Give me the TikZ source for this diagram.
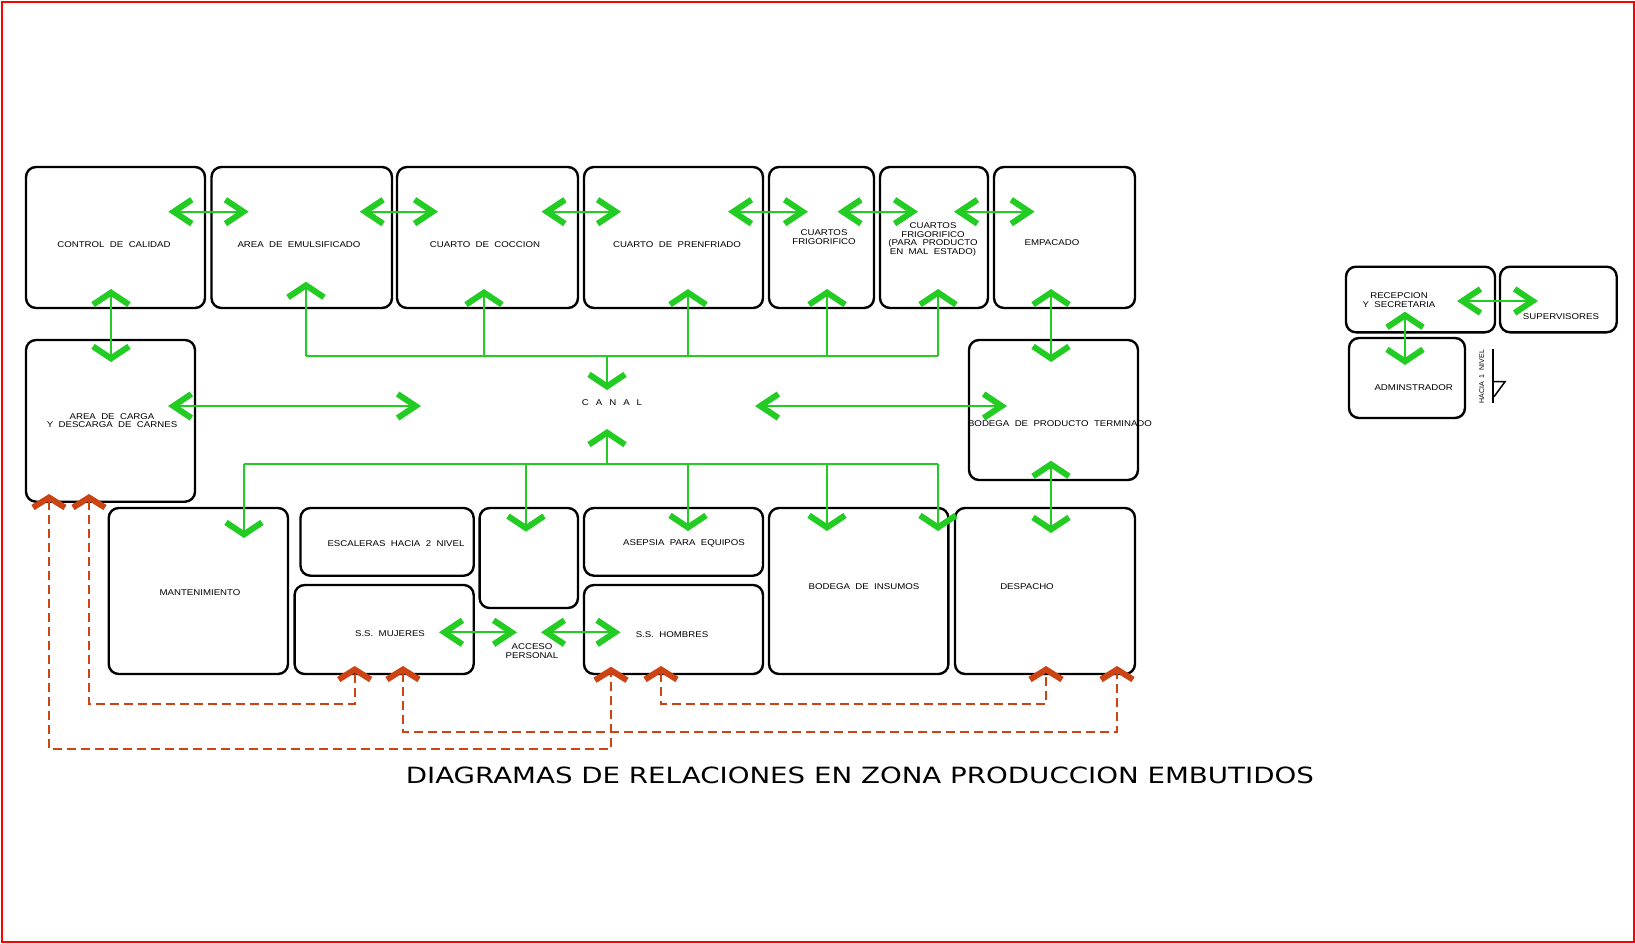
\documentclass[tikz,border=0pt]{standalone}
\usepackage{fontspec}
\usepackage{graphicx}
\usetikzlibrary{arrows.meta,fit}
\newfontfamily\cadfont[FakeStretch=1.15,WordSpace=2]{Liberation Sans}
\newfontfamily\cadplain[WordSpace=2]{Liberation Sans}
\newfontfamily\titlefont{DejaVu Sans}
\definecolor{gcol}{RGB}{34,204,34}
\definecolor{rcol}{RGB}{204,68,20}
\begin{document}
\begin{tikzpicture}[x=1pt,y=-1pt,
  box/.style={draw=black,line width=2.4pt,rounded corners=10pt,inner sep=0pt},
  lbl/.style={font=\cadfont\fontsize{8.4}{8.6}\selectfont,inner sep=0pt,align=center},
  gline/.style={draw=gcol,line width=1.7pt},
  gh/.style={gline,{Straight Barb[length=18pt,width=24pt,line width=6pt]}-{Straight Barb[length=18pt,width=24pt,line width=6pt]}},
  gv/.style={gline,{Straight Barb[length=12pt,width=36pt,line width=6pt]}-{Straight Barb[length=12pt,width=36pt,line width=6pt]}},
  gvend/.style={gline,-{Straight Barb[length=12pt,width=36pt,line width=6pt]}},
  rd/.style={draw=rcol,line width=2pt,dash pattern=on 9pt off 5pt,{Straight Barb[length=10pt,width=32pt,line width=6pt]}-{Straight Barb[length=10pt,width=32pt,line width=6pt]}}
]
\useasboundingbox (0,0) rectangle (1635,943);
\fill[white] (0,0) rectangle (1635,943);
\draw[red,line width=2pt] (2,2) rectangle (1633.5,941.5);

% boxes
\node[box,fit={(26,167) (205,308)}] (ctrl) {};
\node[box,fit={(211.5,167) (392,308)}] (emul) {};
\node[box,fit={(397,167) (578,308)}] (cocc) {};
\node[box,fit={(584,167) (763,308)}] (pren) {};
\node[box,fit={(769,167) (874,308)}] (frig) {};
\node[box,fit={(880,167) (988,308)}] (mal) {};
\node[box,fit={(994,167) (1135,308)}] (emp) {};
\node[box,fit={(26,340) (195,501.7)}] (carga) {};
\node[box,fit={(969,340) (1138,480)}] (bpt) {};
\node[box,fit={(108.7,508) (288,674)}] (mant) {};
\node[box,fit={(300.5,508) (473.7,575.7)}] (esc) {};
\node[box,fit={(294.6,585) (473.7,674)}] (muj) {};
\node[box,fit={(479.6,508) (578,608)}] (small) {};
\node[box,fit={(584,508) (763,575.7)}] (asep) {};
\node[box,fit={(584,585) (763,674)}] (hom) {};
\node[box,fit={(769,508) (948.4,674)}] (insu) {};
\node[box,fit={(955,508) (1135,674)}] (desp) {};
\node[box,fit={(1346,266.7) (1495,332.3)}] (rec) {};
\node[box,fit={(1500,266.7) (1616.7,332.3)}] (sup) {};
\node[box,fit={(1349,338) (1465,418)}] (adm) {};

% labels
\node[lbl] (Lctrl) at (114,245) {CONTROL DE CALIDAD};
\node[lbl] (Lemul) at (299,245) {AREA DE EMULSIFICADO};
\node[lbl] (Lcocc) at (485,245) {CUARTO DE COCCION};
\node[lbl] (Lpren) at (677,245) {CUARTO DE PRENFRIADO};
\node[lbl] (Lfrig) at (824,237) {CUARTOS\\FRIGORIFICO};
\node[lbl] (Lmal) at (933,239.5) {CUARTOS\\FRIGORIFICO\\(PARA PRODUCTO\\EN MAL ESTADO)};
\node[lbl] (Lemp) at (1052,243) {EMPACADO};
\node[lbl] (Lcarga) at (112,420.5) {AREA DE CARGA\\Y DESCARGA DE CARNES};
\node[lbl] (canal) at (612,403) {C\hspace{7pt}A\hspace{7pt}N\hspace{7pt}A\hspace{7pt}L};
\node[lbl] (Lbpt) at (1060,424) {BODEGA DE PRODUCTO TERMINADO};
\node[lbl] (Lmant) at (200,593) {MANTENIMIENTO};
\node[lbl] (Lesc) at (396,543.7) {ESCALERAS HACIA 2 NIVEL};
\node[lbl] (Lmuj) at (390,634) {S.S. MUJERES};
\node[lbl] (Lacc) at (532,651.3) {ACCESO\\PERSONAL};
\node[lbl] (Lasep) at (684,543.7) {ASEPSIA PARA EQUIPOS};
\node[lbl] (Lhom) at (672,634.7) {S.S. HOMBRES};
\node[lbl] (Linsu) at (864,586.7) {BODEGA DE INSUMOS};
\node[lbl] (Ldesp) at (1027,586.7) {DESPACHO};
\node[lbl] (Lrec) at (1399,300) {RECEPCION\\Y SECRETARIA};
\node[lbl] (Lsup) at (1561,316.7) {SUPERVISORES};
\node[lbl] (Ladm) at (1413.7,387.7) {ADMINSTRADOR};
\node[rotate=90,inner sep=0pt,font=\cadplain\fontsize{7}{7}\selectfont] (hacia) at (1481.7,376.7) {HACIA 1 NIVEL};

% flag symbol
\draw[black,line width=1.5pt] (1493,349) -- (1493,402.7);
\draw[black,line width=1.5pt] (1493,381.7) -- (1505,381.7) -- (1494,396.7);

% top horizontal arrows
\coordinate (h1a) at (168.4,211.7); \coordinate (h1b) at (248.8,211.7);
\coordinate (h2a) at (359.7,211.7); \coordinate (h2b) at (438,211.7);
\coordinate (h3a) at (541.5,211.7); \coordinate (h3b) at (621,211.7);
\coordinate (h4a) at (728,211.7); \coordinate (h4b) at (808,211.7);
\coordinate (h5a) at (837.5,211.7); \coordinate (h5b) at (918,211.7);
\coordinate (h6a) at (954,211.7); \coordinate (h6b) at (1034.6,211.7);
\draw[gh] (h1a) -- (h1b);
\draw[gh] (h2a) -- (h2b);
\draw[gh] (h3a) -- (h3b);
\draw[gh] (h4a) -- (h4b);
\draw[gh] (h5a) -- (h5b);
\draw[gh] (h6a) -- (h6b);

% vertical arrows
\coordinate (v1a) at (111,289); \coordinate (v1b) at (111,362);
\coordinate (v2a) at (1051,289); \coordinate (v2b) at (1051,362);
\coordinate (v3a) at (1051,460.7); \coordinate (v3b) at (1051,533);
\draw[gv] (v1a) -- (v1b);
\draw[gv] (v2a) -- (v2b);
\draw[gv] (v3a) -- (v3b);

% canal arrows
\coordinate (c1a) at (168,406); \coordinate (c1b) at (421,406);
\coordinate (c2a) at (755,406); \coordinate (c2b) at (1007,406);
\draw[gh] (c1a) -- (c1b);
\draw[gh] (c2a) -- (c2b);

% top tree
\coordinate (tj1) at (306,355.7); \coordinate (tj2) at (484,355.7);
\coordinate (tj3) at (607,355.7); \coordinate (tj4) at (688,355.7);
\coordinate (tj5) at (827,355.7); \coordinate (tj6) at (938,355.7);
\coordinate (tu1) at (306,281.7); \coordinate (tu2) at (484,289);
\coordinate (tu4) at (688,289); \coordinate (tu5) at (827,289);
\coordinate (tu6) at (938,289); \coordinate (td3) at (607,390);
\draw[gline] (tj1) -- (tj6);
\draw[gvend] (tj1) -- (tu1);
\draw[gvend] (tj2) -- (tu2);
\draw[gvend] (tj3) -- (td3);
\draw[gvend] (tj4) -- (tu4);
\draw[gvend] (tj5) -- (tu5);
\draw[gvend] (tj6) -- (tu6);

% bottom tree
\coordinate (bj1) at (244,464); \coordinate (bj2) at (526,464);
\coordinate (bj3) at (607,464); \coordinate (bj4) at (688,464);
\coordinate (bj5) at (827,464); \coordinate (bj6) at (938,464);
\coordinate (bd1) at (244,538); \coordinate (bd2) at (526,531.7);
\coordinate (bu3) at (607,429); \coordinate (bd4) at (688,531);
\coordinate (bd5) at (827,531); \coordinate (bd6) at (938,531);
\draw[gline] (bj1) -- (bj6);
\draw[gvend] (bj1) -- (bd1);
\draw[gvend] (bj2) -- (bd2);
\draw[gvend] (bj3) -- (bu3);
\draw[gvend] (bj4) -- (bd4);
\draw[gvend] (bj5) -- (bd5);
\draw[gvend] (bj6) -- (bd6);

% access arrows
\coordinate (m1a) at (439,632.3); \coordinate (m1b) at (517,632.3);
\coordinate (m2a) at (541,632.3); \coordinate (m2b) at (620.5,632.3);
\draw[gh] (m1a) -- (m1b);
\draw[gh] (m2a) -- (m2b);

% right group arrows
\coordinate (s1a) at (1457,301); \coordinate (s1b) at (1538,301);
\coordinate (s2a) at (1405,311.7); \coordinate (s2b) at (1405,365);
\draw[gh] (s1a) -- (s1b);
\draw[gv] (s2a) -- (s2b);

% red dashed relations
\coordinate (r1a) at (49,494); \coordinate (r1b) at (611,666.7);
\coordinate (r2a) at (89,494); \coordinate (r2b) at (354.7,666);
\coordinate (r3a) at (403,666); \coordinate (r3b) at (1117,666);
\coordinate (r4a) at (661,666); \coordinate (r4b) at (1046,666);
\draw[rd] (r1a) -- ++(0,255) -| (r1b);
\draw[rd] (r2a) -- ++(0,210) -| (r2b);
\draw[rd] (r3a) -- ++(0,65.7) -| (r3b);
\draw[rd] (r4a) -- ++(0,38) -| (r4b);

% title
\node[anchor=base west,inner sep=0pt] (title) at (405.6,783.3) {\resizebox{908pt}{16.6pt}{\titlefont DIAGRAMAS DE RELACIONES EN ZONA PRODUCCION EMBUTIDOS}};
\end{tikzpicture}
\end{document}
